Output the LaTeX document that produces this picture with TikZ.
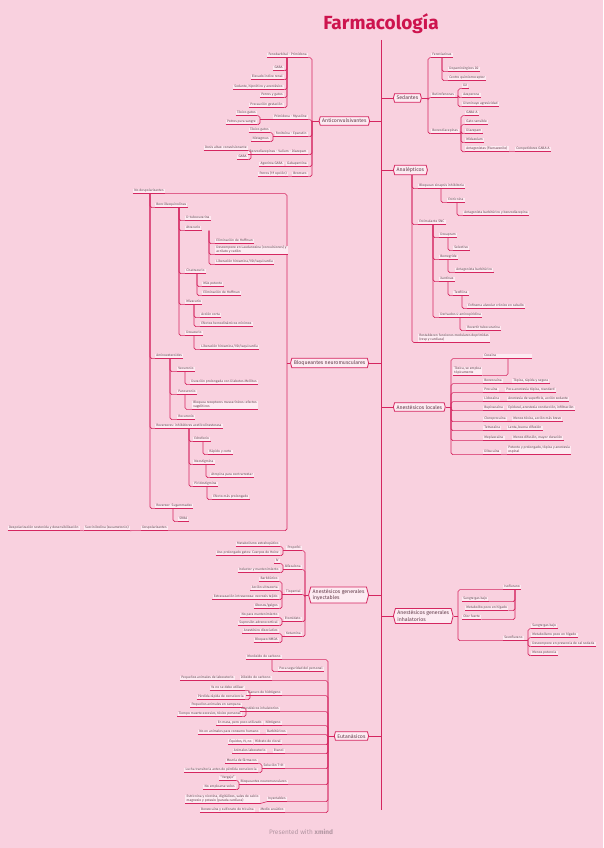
\documentclass[tikz,border=0pt]{standalone}
\usepackage{fontspec}
\setmainfont{Fira Sans}
\usetikzlibrary{shapes.symbols}

\definecolor{bgcol}{RGB}{249,209,223}
\definecolor{boxcol}{RGB}{253,235,242}
\definecolor{linecol}{RGB}{213,38,96}
\definecolor{titlecol}{RGB}{205,20,78}
\definecolor{txtcol}{RGB}{100,62,76}
\definecolor{footcol}{RGB}{178,150,162}

\newcommand\leaffont{\fontsize{3.35}{3.9}\selectfont}
\newcommand\topicfont{\fontsize{5.2}{6.2}\selectfont}

\tikzset{
  link/.style={draw=linecol, line width=0.6pt, rounded corners=1.8pt},
  uline/.style={draw=linecol, line width=0.9pt},
  leaf/.style={font=\leaffont, text=txtcol, fill=boxcol, inner xsep=1.2pt, inner ysep=0.5pt,
    align=left, execute at begin node=\strut,
    append after command={\pgfextra{\let\LN\tikzlastnode}(\LN.south west) edge[uline] (\LN.south east)}},
  lf/.style={leaf, anchor=east},
  rt/.style={leaf, anchor=west},
  topic/.style={shape=signal, signal to=east and west, signal pointer angle=150, draw=linecol,
    line width=0.8pt, fill=boxcol, font=\topicfont, text=txtcol, inner xsep=2pt, inner ysep=2.2pt, align=left},
}

\begin{document}
\begin{tikzpicture}[x=1pt,y=-1pt]
  \fill[bgcol] (0,0) rectangle (603,848);
  \useasboundingbox (0,0) rectangle (603,848);

  \node[font=\fontsize{19}{22}\selectfont\bfseries, text=titlecol] (tit) at (381,24) {Farmacología};
  \node[font=\fontsize{6.5}{8}\selectfont, text=footcol] (foot) at (301,832) {Presented with \textbf{xmind}};

  % eje central
  \coordinate (ax0) at (381,40); \coordinate (ax1) at (381,810);
  \draw[link] (ax0) -- (ax1);

  % temas principales
  \node[topic, anchor=east] (anti) at (370,121) {Anticonvulsivantes};
  \node[topic, anchor=west] (sed) at (393,98) {Sedantes};
  \node[topic, anchor=west] (ana) at (393,170) {Analépticos};
  \node[topic, anchor=east] (blo) at (369,363) {Bloqueantes neuromusculares};
  \node[topic, anchor=west] (loc) at (393,407) {Anestésicos locales};
  \node[topic, anchor=east] (iny) at (369,595) {Anestésicos generales\\inyectables};
  \node[topic, anchor=west] (inh) at (393,616) {Anestésicos generales\\inhalatorios};
  \node[topic, anchor=east] (eut) at (369,736) {Eutanásicos};
  \foreach \t in {anti,blo,iny,eut} \draw[link] (\t.east) -- (ax0 |- \t.east);
  \foreach \t in {sed,ana,loc,inh} \draw[link] (\t.west) -- (ax0 |- \t.west);

  % Anticonvulsivantes
  \coordinate (tA) at (312,0);
  \node[lf] (fen) at (308,55) {Fenobarbital - Primidona};
  \node[lf] (pri) at (308,117) {Primidona - Mysoline};
  \node[lf] (fnt) at (308,134) {Fenitoína - Epanutin};
  \node[lf] (bzd) at (308,152) {Benzodiacepinas - Valium - Diazepam};
  \node[lf] (gab) at (308,164) {Gabapentina};
  \node[lf] (bro) at (308,174) {Bromuro};
  \draw[link] (anti.west) -- (tA |- anti.west);
  \foreach \c in {fen,pri,fnt,bzd,gab,bro} \draw[link] (tA |- anti.west) |- (\c.south east);

  \coordinate (tF) at (287,0);
  \node[lf] (gaba1) at (284,68) {GABA};
  \node[lf] (ind) at (284,77) {Elevado índice renal};
  \node[lf] (sed1) at (284,87) {Sedante, hipnótico y anestésico};
  \node[lf] (per) at (284,95) {Perros y gatos};
  \node[lf] (ges) at (284,105) {Precaución gestación};
  \foreach \c in {gaba1,ind,sed1,per,ges} \draw[link] (tF |- fen.south) |- (\c.south east);

  \coordinate (tP) at (260,0);
  \node[lf] (tg1) at (257,113) {Tóxico gatos};
  \node[lf] (pot) at (257,122) {Potros pura sangre};
  \draw[link] (pri.south west) -- (tP |- pri.south);
  \foreach \c in {tg1,pot} \draw[link] (tP |- pri.south) |- (\c.south east);

  \coordinate (tFn) at (273,0);
  \node[lf] (tg2) at (270,130) {Tóxico gatos};
  \node[lf] (nis) at (270,139) {Nistagmus};
  \draw[link] (fnt.south west) -- (tFn |- fnt.south);
  \foreach \c in {tg2,nis} \draw[link] (tFn |- fnt.south) |- (\c.south east);

  \coordinate (tBz) at (251,0);
  \node[lf] (dos) at (248,148) {Dosis altas: convulsionante};
  \node[lf] (gaba2) at (248,157) {GABA};
  \draw[link] (bzd.south west) -- (tBz |- bzd.south);
  \foreach \c in {dos,gaba2} \draw[link] (tBz |- bzd.south) |- (\c.south east);

  \node[lf] (ago) at (284,164) {Agonista GABA};
  \node[lf] (per1) at (288,174) {Perros (1ª opción)};
  \draw[link] (gab.south west) -- (ago.south east);
  \draw[link] (bro.south west) -- (per1.south east);

  % Sedantes
  \coordinate (tS) at (428,0);
  \node[rt] (fto) at (431,55) {Fenotiazinas};
  \node[rt] (but) at (431,95) {Butirofenonas};
  \node[rt] (bzs) at (431,131) {Benzodiacepinas};
  \draw[link] (sed.east) -- (tS |- sed.east);
  \foreach \c in {fto,but,bzs} \draw[link] (tS |- sed.east) |- (\c.south west);

  \coordinate (tFt) at (442,0);
  \node[rt] (dop) at (448,69) {Dopaminérgicos D2};
  \node[rt] (cqr) at (448,78) {Centro quimiorreceptor};
  \foreach \c in {dop,cqr} \draw[link] (tFt |- fto.south) |- (\c.south west);

  \coordinate (tBu) at (458,0);
  \node[rt] (d2) at (462,86) {D2};
  \node[rt] (aza) at (462,95) {Azaperona};
  \node[rt] (agr) at (462,104) {Disminuye agresividad};
  \draw[link] (but.south east) -- (tBu |- but.south);
  \foreach \c in {d2,aza,agr} \draw[link] (tBu |- but.south) |- (\c.south west);

  \coordinate (tBs) at (461,0);
  \node[rt] (gba) at (465,113) {GABA-A};
  \node[rt] (gat) at (465,122) {Gato sensible};
  \node[rt] (dia) at (465,131) {Diazepam};
  \node[rt] (mid) at (465,140) {Midazolam};
  \node[rt] (flu) at (465,149) {Antagonistas (Flumazenilo)};
  \node[rt] (cga) at (515,149) {Competidores GABA-A};
  \draw[link] (bzs.south east) -- (tBs |- bzs.south);
  \foreach \c in {gba,gat,dia,mid,flu} \draw[link] (tBs |- bzs.south) |- (\c.south west);
  \draw[link] (flu.south east) -- (cga.south west);

  % Analepticos
  \coordinate (tAn) at (412,0);
  \node[rt] (bsi) at (418,186) {Bloquean sinapsis inhibitoria};
  \node[rt] (snc) at (418,222) {Estimulante SNC};
  \node[rt] (res) at (418,338) {Restablecen funciones medulares deprimidas\\(resp y cardiaca)};
  \foreach \c in {bsi,snc,res} \draw[link] (tAn |- ana.south) |- (\c.south west);

  \coordinate (tBi) at (441,0); \coordinate (tEs) at (457,0);
  \node[rt] (est) at (447,200) {Estricnina};
  \node[rt] (abb) at (463,213) {Antagonista barbitúrico y benzodiacepina};
  \draw[link] (tBi |- bsi.south) |- (est.south west);
  \draw[link] (tEs |- est.south) |- (abb.south west);

  \coordinate (tSn) at (433,0);
  \node[rt] (dox) at (439,235) {Doxapram};
  \node[rt] (bem) at (439,257) {Bemegride};
  \node[rt] (xan) at (439,279) {Xantinas};
  \node[rt] (amp) at (439,315) {Derivados 4-aminopiridina};
  \foreach \c in {dox,bem,xan,amp} \draw[link] (tSn |- snc.south) |- (\c.south west);

  \coordinate (tDx) at (448,0); \coordinate (tTe) at (462,0); \coordinate (tAm) at (460,0);
  \node[rt] (sel) at (453,248) {Selectivo};
  \node[rt] (abt) at (455,270) {Antagonista barbitúrico};
  \node[rt] (teo) at (453,293) {Teofilina};
  \node[rt] (enf) at (467,306) {Enfisema alveolar crónico en caballo};
  \node[rt] (rev) at (466,328) {Revertir tubocurarina};
  \draw[link] (tDx |- dox.south) |- (sel.south west);
  \draw[link] (tDx |- bem.south) |- (abt.south west);
  \draw[link] (tDx |- xan.south) |- (teo.south west);
  \draw[link] (tTe |- teo.south) |- (enf.south west);
  \draw[link] (tAm |- amp.south) |- (rev.south west);

  % Bloqueantes neuromusculares
  \coordinate (tB) at (287,0);
  \node[lf] (nod) at (165,191) {No despolarizantes};
  \node[lf] (dsp) at (168,528) {Despolarizantes};
  \node[lf] (suc) at (130,528) {Succinilcolina (suxametonio)};
  \node[lf] (dsd) at (80,528) {Despolarización sostenida y desensibilización};
  \draw[link] (blo.west) -- (tB |- blo.west);
  \foreach \c in {nod,dsp} \draw[link] (tB |- blo.west) |- (\c.south east);
  \draw[link] (dsp.south west) -- (suc.south east);
  \draw[link] (suc.south west) -- (dsd.south east);

  \coordinate (tN) at (150,0);
  \node[rt] (bnc) at (155,205) {Bencilisoquinolinas};
  \node[rt] (ame) at (155,356) {Aminoesteroides};
  \node[rt] (rvi) at (155,426) {Reversores: inhibidores acetilcolinesterasa};
  \node[rt] (sug) at (155,506) {Reversor: Sugammadex};
  \foreach \c in {bnc,ame,rvi,sug} \draw[link] (tN |- nod.south) |- (\c.south west);

  \coordinate (tBn) at (179,0);
  \node[rt] (dtc) at (185,218) {D-tubocurarina};
  \node[rt] (atr) at (185,228) {Atracurio};
  \node[rt] (cis) at (185,271) {Cisatracurio};
  \node[rt] (miv) at (185,302) {Mivacurio};
  \node[rt] (dxc) at (185,333) {Doxacurio};
  \foreach \c in {dtc,atr,cis,miv,dxc} \draw[link] (tBn |- bnc.south) |- (\c.south west);

  \coordinate (tAt) at (209,0);
  \node[rt] (hof1) at (215,241) {Eliminación de Hoffman};
  \node[rt] (lau) at (215,250) {Descompone en Laudanosina (convulsiones) y\\acrilato y catión};
  \node[rt] (his1) at (215,262) {Liberación histamina/VD/taquicardia};
  \foreach \c in {hof1,lau,his1} \draw[link] (tAt |- atr.south) |- (\c.south west);

  \coordinate (tCi) at (197,0); \coordinate (tMi) at (194,0);
  \node[rt] (pot2) at (202,284) {Más potente};
  \node[rt] (hof2) at (202,293) {Eliminación de Hoffman};
  \node[rt] (acc) at (200,315) {Acción corta};
  \node[rt] (efh) at (200,324) {Efectos hemodinámicos mínimos};
  \node[rt] (his2) at (200,347) {Liberación histamina/VD/taquicardia};
  \foreach \c in {pot2,hof2} \draw[link] (tCi |- cis.south) |- (\c.south west);
  \foreach \c in {acc,efh} \draw[link] (tMi |- miv.south) |- (\c.south west);
  \draw[link] (tMi |- dxc.south) |- (his2.south west);

  \coordinate (tAm2) at (170,0); \coordinate (tVe) at (185,0);
  \node[rt] (vec) at (177,369) {Vecuronio};
  \node[rt] (pan) at (177,392) {Pancuronio};
  \node[rt] (roc) at (177,417) {Rocuronio};
  \node[rt] (dm) at (190,382) {Duración prolongada con Diabetes Mellitus};
  \node[rt] (vag) at (192,405) {Bloquea receptores muscarínicos: efectos\\vagolíticos};
  \foreach \c in {vec,pan,roc} \draw[link] (tAm2 |- ame.south) |- (\c.south west);
  \draw[link] (tVe |- vec.south) |- (dm.south west);
  \draw[link] (tVe |- pan.south) |- (vag.south west);

  \coordinate (tRv) at (189,0);
  \node[rt] (edr) at (193,439) {Edrofonio};
  \node[rt] (neo) at (193,462) {Neostigmina};
  \node[rt] (pir) at (193,484) {Piridostigmina};
  \foreach \c in {edr,neo,pir} \draw[link] (tRv |- rvi.south) |- (\c.south west);
  \coordinate (tEd) at (203,0); \coordinate (tNe) at (206,0); \coordinate (tPi) at (207,0);
  \node[rt] (rap) at (208,452) {Rápido y corto};
  \node[rt] (atp) at (210,475) {Atropina para contrarrestar};
  \node[rt] (emp) at (212,497) {Efecto más prolongado};
  \draw[link] (tEd |- edr.south) |- (rap.south west);
  \draw[link] (tNe |- neo.south) |- (atp.south west);
  \draw[link] (tPi |- pir.south) |- (emp.south west);

  \coordinate (tSu) at (173,0);
  \node[rt] (srb) at (178,519) {SRBA};
  \draw[link] (tSu |- sug.south) |- (srb.south west);

  % Anestesicos locales
  \coordinate (tL) at (451,0);
  \node[rt, text width=46pt] (coc) at (483,356) {Cocaína};
  \node[rt] (bzc) at (483,381) {Benzocaína};
  \node[rt] (prc) at (483,390) {Procaína};
  \node[rt] (lid) at (483,399) {Lidocaína};
  \node[rt] (bup) at (483,408) {Bupivacaína};
  \node[rt] (clo) at (483,419) {Cloroprocaína};
  \node[rt] (tet) at (483,428) {Tetracaína};
  \node[rt] (mpv) at (483,438) {Mepivacaína};
  \node[rt] (dib) at (483,452) {Dibucaína};
  \draw[link] (loc.east) -- (tL |- loc.east);
  \foreach \c in {coc,bzc,prc,lid,bup,clo,tet,mpv,dib} \draw[link] (tL |- loc.east) |- (\c.south west);

  \coordinate (tC) at (508,0);
  \node[rt] (tox) at (453,371) {Tóxica, se emplea\\tópicamente};
  \draw[link] (tC |- coc.south) |- (tox.south east);

  \node[rt] (tsr) at (512,381) {Tópica, rápida y segura};
  \node[rt] (pat) at (505,390) {Poca anestesia tópica, standard};
  \node[rt] (asa) at (507,399) {Anestesia de superficie, acción sedante};
  \node[rt] (epi) at (507,408) {Epidural, anestesia conducción, infiltración};
  \node[rt] (mtb) at (512,419) {Menos tóxica, acción más breve};
  \node[rt] (lbd) at (507,428) {Lenta, buena difusión};
  \node[rt] (mdm) at (512,438) {Menos difusión, mayor duración};
  \node[rt] (ppt) at (507,450) {Potente y prolongado, tópica y anestesia\\espinal};
  \foreach \a/\b in {bzc/tsr,prc/pat,lid/asa,bup/epi,clo/mtb,tet/lbd,mpv/mdm,dib/ppt}
    \draw[link] (\a.south east) -- (\b.south west);

  % Anestesicos generales inyectables
  \coordinate (tI) at (305,0);
  \node[lf] (pro) at (302,548) {Propofol};
  \node[lf] (alf) at (302,567) {Alfaxalona};
  \node[lf] (tio) at (302,592) {Tiopental};
  \node[lf] (eto) at (302,619) {Etomidato};
  \node[lf] (ket) at (302,634) {Ketamina};
  \draw[link] (iny.west) -- (tI |- iny.west);
  \foreach \c in {pro,alf,tio,eto,ket} \draw[link] (tI |- iny.west) |- (\c.south east);

  \coordinate (tPr) at (283,0); \coordinate (tTi) at (282,0);
  \node[lf] (meh) at (280,544) {Metabolismo extrahepático};
  \node[lf] (hei) at (280,553) {Uso prolongado gatos: Cuerpos de Heinz};
  \node[lf] (iv) at (280,561) {IV};
  \node[lf] (inm) at (280,570) {Inductor y mantenimiento};
  \node[lf] (bar) at (279,579) {Barbitúrico};
  \node[lf] (ult) at (279,588) {Acción ultracorta};
  \node[lf] (nec) at (279,597) {Extravasación intravenosa: necrosis tejido};
  \node[lf] (obe) at (279,606) {Obesos/galgos};
  \node[lf] (nom) at (279,615) {No para mantenimiento};
  \node[lf] (spa) at (279,623) {Supresión adrenocortical};
  \node[lf] (dis) at (279,631) {Anestésico disociativo};
  \node[lf] (nmd) at (279,640) {Bloqueo NMDA};
  \draw[link] (pro.south west) -- (tPr |- pro.south);
  \foreach \c in {meh,hei} \draw[link] (tPr |- pro.south) |- (\c.south east);
  \draw[link] (alf.south west) -- (tPr |- alf.south);
  \foreach \c in {iv,inm} \draw[link] (tPr |- alf.south) |- (\c.south east);
  \draw[link] (tio.south west) -- (tTi |- tio.south);
  \foreach \c in {bar,ult,nec,obe} \draw[link] (tTi |- tio.south) |- (\c.south east);
  \draw[link] (eto.south west) -- (tTi |- eto.south);
  \foreach \c in {nom,spa} \draw[link] (tTi |- eto.south) |- (\c.south east);
  \draw[link] (ket.south west) -- (tTi |- ket.south);
  \foreach \c in {dis,nmd} \draw[link] (tTi |- ket.south) |- (\c.south east);

  % Anestesicos generales inhalatorios
  \coordinate (tH) at (458,0);
  \node[rt] (iso) at (503,587) {Isoflurano};
  \node[rt] (sev) at (503,638) {Sevoflurano};
  \draw[link] (inh.east) -- (tH |- inh.east);
  \foreach \c in {iso,sev} \draw[link] (tH |- inh.east) |- (\c.south west);

  \coordinate (tIs) at (515,0);
  \node[rt] (sgb1) at (462,599) {Sangre:gas bajo};
  \node[rt] (mph1) at (465,608) {Metabolito poco en hígado};
  \node[rt] (olf) at (462,617) {Olor fuerte};
  \foreach \c in {sgb1,mph1,olf} \draw[link] (tIs |- iso.south) |- (\c.south east);

  \coordinate (tSv) at (528,0);
  \node[rt] (sgb2) at (531,626) {Sangre:gas bajo};
  \node[rt] (mph2) at (531,635) {Metabolismo poco en hígado};
  \node[rt] (cal) at (531,644) {Descompone en presencia de cal sodada};
  \node[rt] (mep) at (531,653) {Menos potencia};
  \draw[link] (sev.south east) -- (tSv |- sev.south);
  \foreach \c in {sgb2,mph2,cal,mep} \draw[link] (tSv |- sev.south) |- (\c.south west);

  % Eutanasicos
  \coordinate (tE) at (328,0);
  \node[lf] (mon) at (282,657) {Monóxido de carbono};
  \node[lf] (dio) at (272,678) {Dióxido de carbono};
  \node[lf] (cia) at (282,693) {Cianuro de hidrógeno};
  \node[lf] (ain) at (280,709) {Anestésicos inhalatorios};
  \node[lf] (nit) at (282,723) {Nitrógeno};
  \node[lf] (brb) at (287,732) {Barbitúricos};
  \node[lf] (hcl) at (282,742) {Hidrato de cloral};
  \node[lf] (eta) at (285,751) {Etanol};
  \node[lf] (t61) at (285,766) {Solución T-61};
  \node[lf] (bnm) at (288,782) {Bloqueantes neuromusculares};
  \node[lf] (iyc) at (287,799) {Inyectables};
  \node[lf] (mac) at (285,810) {Medio acuático};
  \draw[link] (eut.west) -- (tE |- eut.west);
  \foreach \c in {mon,dio,cia,ain,nit,brb,hcl,eta,t61,bnm,iyc,mac}
    \draw[link] (tE |- eut.west) |- (\c.south east);

  \coordinate (tM) at (272,0);
  \node[rt] (poc) at (278,669) {Poca seguridad del personal};
  \draw[link] (tM |- mon.south) |- (poc.south west);

  \coordinate (tCn) at (250,0); \coordinate (tAi) at (246,0);
  \node[lf] (ynd) at (245,688) {Ya no se debe utilizar};
  \node[lf] (prd) at (245,697) {Pérdida rápida de consciencia};
  \node[lf] (pac) at (242,705) {Pequeños animales en campana};
  \node[lf] (tme) at (242,714) {Tiempo muerte excesivo, tóxico personal};
  \draw[link] (cia.south west) -- (tCn |- cia.south);
  \foreach \c in {ynd,prd} \draw[link] (tCn |- cia.south) |- (\c.south east);
  \draw[link] (ain.south west) -- (tAi |- ain.south);
  \foreach \c in {pac,tme} \draw[link] (tAi |- ain.south) |- (\c.south east);

  \coordinate (tT6) at (262,0); \coordinate (tBn2) at (239,0);
  \node[lf] (mzf) at (258,761) {Mezcla de fármacos};
  \node[lf] (ltr) at (258,770) {Lucha transitoria antes de pérdida consciencia};
  \node[lf] (ver) at (236,778) {“Vergajo”};
  \node[lf] (nes) at (236,787) {No emplearse solos};
  \draw[link] (t61.south west) -- (tT6 |- t61.south);
  \foreach \c in {mzf,ltr} \draw[link] (tT6 |- t61.south) |- (\c.south east);
  \draw[link] (bnm.south west) -- (tBn2 |- bnm.south);
  \foreach \c in {ver,nes} \draw[link] (tBn2 |- bnm.south) |- (\c.south east);

  \node[lf] (lab) at (235,678) {Pequeños animales de laboratorio};
  \node[lf] (emp2) at (263,723) {En masa, pero poco utilizado};
  \node[lf] (nch) at (260,732) {No en animales para consumo humano};
  \node[lf] (eqi) at (253,742) {Équidos, IV, no};
  \node[lf] (alb) at (267,751) {Animales laboratorio};
  \node[lf] (est2) at (260,799) {Estricnina y nicotina, digitálicos, sales de calcio\\magnesio y potasio (parada cardíaca)};
  \node[lf] (bzt) at (255,810) {Benzocaína y sulfonato de tricaína};
  \foreach \a/\b in {dio/lab,nit/emp2,brb/nch,hcl/eqi,eta/alb,iyc/est2,mac/bzt}
    \draw[link] (\a.south west) -- (\b.south east);
\end{tikzpicture}
\end{document}
